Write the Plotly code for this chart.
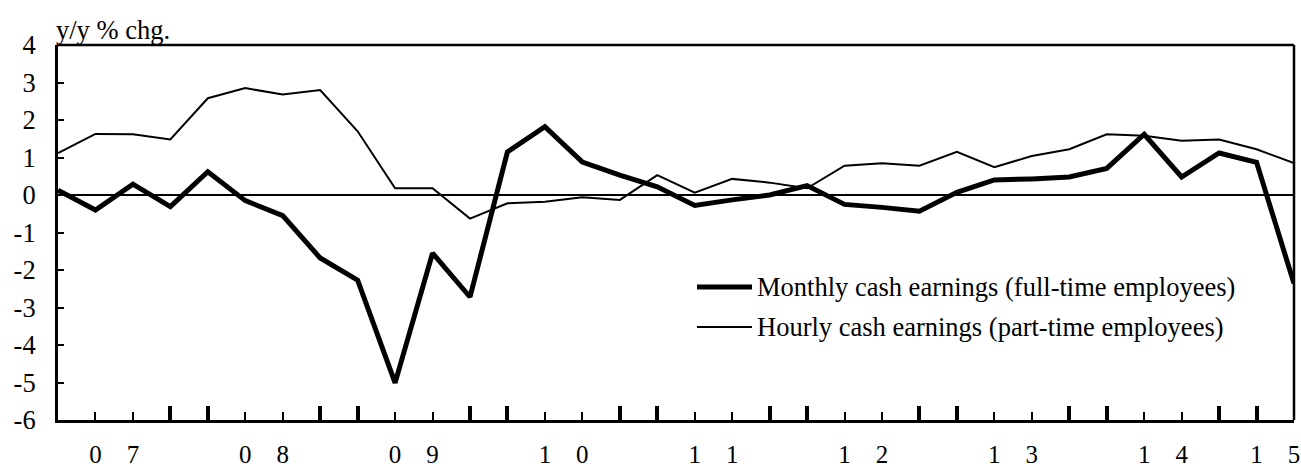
import plotly.graph_objects as go

# Quarterly observations, y/y % change
periods = list(range(34))

monthly_fulltime = [
    0.13, -0.40, 0.29, -0.31, 0.62, -0.15, -0.55, -1.68, -2.27, -5.01,
    -1.55, -2.72, 1.15, 1.82, 0.88, 0.53, 0.22, -0.28, -0.13, 0.00,
    0.25, -0.25, -0.33, -0.43, 0.07, 0.40, 0.43, 0.48, 0.71, 1.62,
    0.48, 1.12, 0.87, -2.36,
]

hourly_parttime = [
    1.12, 1.63, 1.62, 1.48, 2.58, 2.85, 2.68, 2.80, 1.70, 0.18,
    0.18, -0.63, -0.22, -0.18, -0.06, -0.13, 0.53, 0.06, 0.43, 0.33,
    0.18, 0.78, 0.85, 0.78, 1.15, 0.74, 1.04, 1.22, 1.62, 1.58,
    1.45, 1.48, 1.22, 0.85,
]

# Year digits printed under individual periods
label_positions = [1, 2, 5, 6, 9, 10, 13, 14, 17, 18, 21, 22, 25, 26, 29, 30, 32, 33]
label_chars = ["0", "7", "0", "8", "0", "9", "1", "0", "1", "1",
               "1", "2", "1", "3", "1", "4", "1", "5"]

# Heavy tick marks on the period axis
heavy_ticks = [i for i in periods if i % 4 in (0, 3) and i < 33]

y_ticks = list(range(-6, 5))
y_tick_text = [str(v) for v in y_ticks]  # plain hyphen for negatives

series_names = [
    "Monthly cash earnings (full-time employees)",
    "Hourly cash earnings (part-time employees)",
]

FONT = "Liberation Serif, Times New Roman, serif"
FS = 26.5

fig = go.Figure()
fig.add_trace(go.Scatter(
    x=periods, y=monthly_fulltime, mode="lines",
    line=dict(color="black", width=5), name=series_names[0],
    xaxis="x", yaxis="y",
))
fig.add_trace(go.Scatter(
    x=periods, y=hourly_parttime, mode="lines",
    line=dict(color="black", width=2), name=series_names[1],
    xaxis="x2", yaxis="y",
))

fig.update_layout(
    width=1301, height=470,
    margin=dict(l=58, r=7, t=45, b=50),
    paper_bgcolor="white", plot_bgcolor="white",
    showlegend=False,
    font=dict(family=FONT, size=FS, color="black"),
    xaxis=dict(
        range=[0, 33], showgrid=False, zeroline=False, automargin=False,
        showline=True, linecolor="black", linewidth=3,
        tickmode="array", tickvals=heavy_ticks, ticktext=[""] * len(heavy_ticks),
        ticks="inside", ticklen=14, tickwidth=3.5, tickcolor="black",
    ),
    xaxis2=dict(
        range=[0, 33], overlaying="x", anchor="y", side="bottom",
        showgrid=False, zeroline=False, showline=False, automargin=False,
        tickmode="array", tickvals=label_positions, ticktext=label_chars,
        ticks="inside", ticklen=8, tickwidth=1.5, tickcolor="black",
        tickfont=dict(family=FONT, size=25),
        ticklabelstandoff=17,
    ),
    yaxis=dict(
        range=[-6, 4], showgrid=False, automargin=False,
        zeroline=True, zerolinecolor="black", zerolinewidth=1.5,
        showline=True, linecolor="black", linewidth=3,
        tickmode="array", tickvals=y_ticks, ticktext=y_tick_text,
        ticks="inside", ticklen=6, tickwidth=2, tickcolor="black",
        tickfont=dict(family=FONT, size=FS),
        ticklabelstandoff=14,
    ),
)

# Top and right frame of the plot area
fig.add_shape(type="line", xref="paper", yref="paper", x0=0, x1=1, y0=1, y1=1,
              line=dict(color="black", width=2.5))
fig.add_shape(type="line", xref="paper", yref="paper", x0=1, x1=1, y0=0, y1=1,
              line=dict(color="black", width=2.5))

# Unit caption
fig.add_annotation(text="y/y % chg.", xref="paper", yref="paper",
                   x=-0.003, y=0.995, xanchor="left", yanchor="bottom",
                   showarrow=False, font=dict(family=FONT, size=FS))

# Legend box inside the plot
legend_rows = [(0.3547, 5), (0.248, 2)]
for name, (ly, lw) in zip(series_names, legend_rows):
    fig.add_shape(type="line", xref="paper", yref="paper",
                  x0=(697 - 58) / 1236, x1=(752 - 58) / 1236, y0=ly, y1=ly,
                  line=dict(color="black", width=lw))
    fig.add_annotation(text=name, xref="paper", yref="paper",
                       x=(755 - 58) / 1236, y=ly, xanchor="left", yanchor="middle",
                       showarrow=False, font=dict(family=FONT, size=FS))

fig.write_html("out.html")
